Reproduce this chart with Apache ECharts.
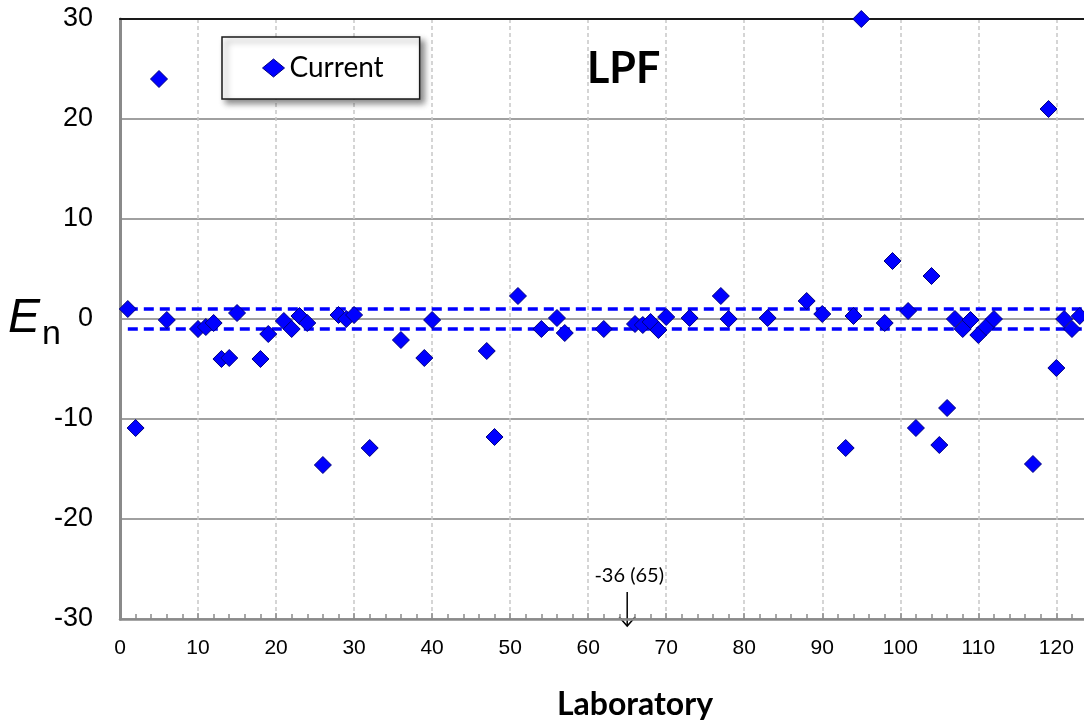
<!DOCTYPE html>
<html>
<head>
<meta charset="utf-8">
<script src="https://cdn.jsdelivr.net/npm/echarts@6/dist/echarts.min.js"></script>
<style>
  html, body { margin: 0; padding: 0; background: #ffffff; overflow: hidden; }
  #chart { width: 1160px; height: 727px; }
</style>
</head>
<body>
<div id="chart"></div>
<script>
// Laboratory numbers and their En scores for the LPF comparison
const laboratories = [1, 2, 5, 6, 10, 11, 12, 13, 14, 15, 18, 19, 21, 22, 23, 24, 26, 28, 29, 30,
  32, 36, 39, 40, 47, 48, 51, 54, 56, 57, 62, 66, 67, 68, 69, 70, 73, 77, 78, 83,
  88, 90, 93, 94, 95, 98, 99, 101, 102, 104, 105, 106, 107, 108, 109, 110, 111, 112, 117, 119,
  120, 121, 122, 123];
const enCurrent = [1.0, -10.9, 24.0, -0.1, -1.0, -0.8, -0.4, -4.0, -3.9, 0.6, -4.0, -1.5, -0.2, -1.0, 0.3, -0.4, -14.6, 0.4, 0.0, 0.4,
  -12.9, -2.1, -3.9, -0.1, -3.2, -11.8, 2.3, -1.0, 0.1, -1.4, -1.0, -0.5, -0.6, -0.3, -1.1, 0.2, 0.1, 2.3, 0.0, 0.1,
  1.8, 0.5, -12.9, 0.3, 30.0, -0.4, 5.8, 0.8, -10.9, 4.3, -12.6, -8.9, 0.0, -1.0, -0.1, -1.6, -0.8, 0.0, -14.5, 21.0,
  -4.9, 0.0, -1.0, 0.3];

// Acceptance limits |En| <= 1, drawn across the laboratory range
const limitValues = [1, -1];
const limitLabRange = [1, 132];

// Axis ranges
const xRange = [0, 132];
const xStep = 10;
const yRange = [-30, 30];
const yStep = 10;

// Off-scale result pointed at from the bottom axis
const offScaleLab = 65;
const offScaleEn = -36;

const points = laboratories.map((lab, i) => [lab, enCurrent[i]]);
const limitSeries = limitValues.map(v => ({
  type: 'line',
  data: limitLabRange.map(lab => [lab, v]),
  symbol: 'none',
  silent: true,
  z: 1,
  lineStyle: { color: '#0000ff', width: 3.5, type: [10, 6] }
}));

const chart = echarts.init(document.getElementById('chart'), null, { renderer: 'canvas' });

const sansFont = 'Liberation Sans, Arial, sans-serif';
const textFont = 'Lato, Open Sans, sans-serif';

chart.setOption({
  animation: false,
  backgroundColor: '#ffffff',
  grid: { left: 120, top: 19, width: 1030, height: 600, containLabel: false },
  title: {
    text: 'LPF',
    left: 582,
    top: 43,
    textStyle: { fontFamily: textFont, fontWeight: 'bold', fontSize: 43, color: '#000' }
  },
  legend: {
    data: [{ name: 'Current', icon: 'diamond' }],
    left: 222,
    top: 37,
    itemWidth: 22,
    itemHeight: 18,
    padding: [17, 36, 17, 40],
    backgroundColor: '#ffffff',
    borderColor: '#1a1a1a',
    borderWidth: 1.5,
    shadowColor: 'rgba(0,0,0,0.45)',
    shadowBlur: 6,
    shadowOffsetX: 4,
    shadowOffsetY: 4,
    textStyle: { fontFamily: textFont, fontSize: 28, color: '#000' },
    itemStyle: { color: '#0000ff', borderColor: '#000080', borderWidth: 1 }
  },
  xAxis: [{
    type: 'value',
    min: xRange[0],
    max: xRange[1],
    interval: xStep,
    name: 'Laboratory',
    nameLocation: 'middle',
    nameGap: 70,
    nameTextStyle: { fontFamily: textFont, fontWeight: 'bold', fontSize: 32, color: '#000' },
    axisLine: { show: true, onZero: false, lineStyle: { color: '#8a8a8a', width: 2.5 } },
    axisTick: { show: true, inside: true, length: 6, lineStyle: { color: '#8a8a8a', width: 1.5 } },
    minorTick: { show: true, splitNumber: 5, length: 5, lineStyle: { color: '#8a8a8a', width: 1.5 } },
    axisLabel: {
      fontFamily: sansFont, fontSize: 21, color: '#000', margin: 19,
      formatter: v => (v % xStep === 0 ? String(v) : '')
    },
    splitLine: { show: true, lineStyle: { color: '#c8c8c8', width: 1.5, type: [4, 3] } }
  }, {
    type: 'value',
    position: 'top',
    min: xRange[0],
    max: xRange[1],
    interval: xStep,
    axisLine: { show: true, onZero: false, lineStyle: { color: '#1a1a1a', width: 2 } },
    axisTick: { show: false },
    axisLabel: { show: false },
    splitLine: { show: false }
  }],
  yAxis: {
    type: 'value',
    min: yRange[0],
    max: yRange[1],
    interval: yStep,
    axisLine: { show: true, onZero: false, lineStyle: { color: '#8a8a8a', width: 3 } },
    axisTick: { show: false },
    axisLabel: { fontFamily: sansFont, fontSize: 27, color: '#000', margin: 27 },
    splitLine: { show: true, lineStyle: { color: '#a0a0a0', width: 2 } }
  },
  series: [
    ...limitSeries,
    {
      name: 'Current',
      type: 'scatter',
      symbol: 'diamond',
      symbolSize: 17,
      data: points,
      z: 3,
      itemStyle: { color: '#0000ff', borderColor: '#000080', borderWidth: 1, opacity: 1 }
    }
  ]
});

// Axis title and off-scale marker, placed from the axis scale
const arrowBase = chart.convertToPixel({ gridIndex: 0 }, [offScaleLab, yRange[0]]);
const ax = arrowBase[0];
const ay = arrowBase[1];
chart.setOption({
  graphic: [
    {
      type: 'text', left: 8, top: 295,
      style: { text: 'E', font: 'italic 48px ' + sansFont, fill: '#000' }
    },
    {
      type: 'text', left: 42, top: 318,
      style: { text: 'n', font: '34px ' + sansFont, fill: '#000' }
    },
    {
      type: 'text', x: ax + 2, y: ay - 43,
      style: {
        text: offScaleEn + ' (' + offScaleLab + ')',
        font: '20px ' + textFont, fill: '#000', align: 'center', verticalAlign: 'middle'
      }
    },
    {
      type: 'polyline', silent: true,
      shape: { points: [[ax, ay - 27], [ax, ay + 7]] },
      style: { stroke: '#000', lineWidth: 1.5 }
    },
    {
      type: 'polyline', silent: true,
      shape: { points: [[ax - 8, ay - 2], [ax, ay + 7], [ax + 8, ay - 2]] },
      style: { stroke: '#000', lineWidth: 1.5, fill: null }
    }
  ]
});
</script>
</body>
</html>
